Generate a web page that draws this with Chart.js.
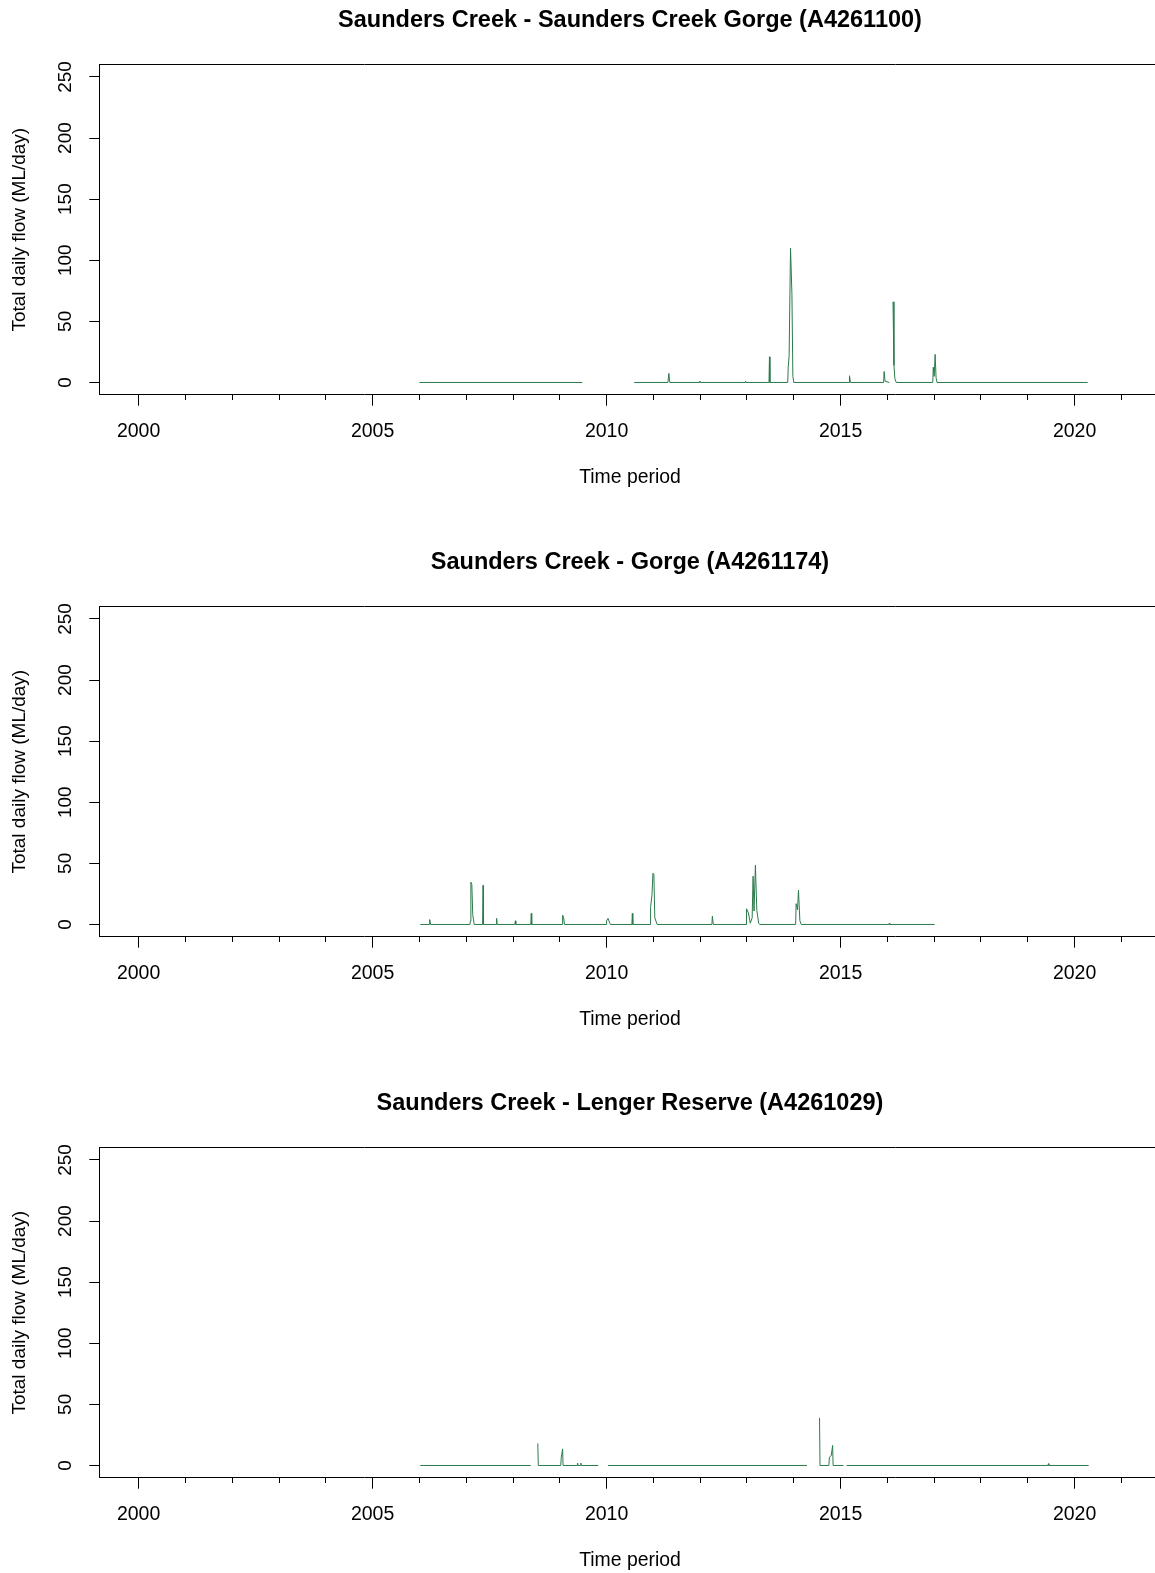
<!DOCTYPE html>
<html>
<head>
<meta charset="utf-8">
<script src="https://cdn.jsdelivr.net/npm/chart.js@4.4.1/dist/chart.umd.min.js"></script>
<style>
  html, body { margin: 0; padding: 0; background: #fff; width: 1155px; height: 1573px; overflow: hidden; }
  .panel { position: absolute; left: 0; width: 1163px; height: 542px; }
</style>
</head>
<body>
<div class="panel" style="top:0px"><canvas id="c1" width="1163" height="542"></canvas></div>
<div class="panel" style="top:542px"><canvas id="c2" width="1163" height="542"></canvas></div>
<div class="panel" style="top:1083px"><canvas id="c3" width="1163" height="542"></canvas></div>
<script>
// tick positions
const xTickYears = [2000, 2001, 2002, 2003, 2004, 2005, 2006, 2007, 2008, 2009, 2010,
                    2011, 2012, 2013, 2014, 2015, 2016, 2017, 2018, 2019, 2020, 2021];
const xLabelYears = [2000, 2005, 2010, 2015, 2020];
const yTickValues = [0, 25, 50, 75, 100, 125, 150, 175, 200, 225, 250];
const yLabelValues = [0, 50, 100, 150, 200, 250];

// Saunders Creek Gorge (A4261100) - decimal year / ML per day (null = no record)
const gorgeA1100Dates = [2006.00, 2009.48, 2009.55, 2010.59, 2011.31, 2011.33, 2011.35, 2011.98, 2011.99, 2012.00,
  2012.96, 2012.97, 2012.98, 2013.47, 2013.48, 2013.49, 2013.87, 2013.88, 2013.90, 2013.93, 2013.96, 2013.98, 2014.00,
  2015.18, 2015.19, 2015.21, 2015.92, 2015.93, 2015.95, 2016.04, 2016.08, 2016.12, 2016.14, 2016.16, 2016.19,
  2016.97, 2016.98, 2017.00, 2017.02, 2017.04, 2017.06, 2020.28];
const gorgeA1100Flow = [0, 0, null, 0, 0, 7.4, 0, 0, 1.2, 0,
  0, 1, 0, 0, 21, 0, 0, 12, 21.5, 110, 72, 5, 0,
  0, 5.5, 0, 0, 9, 1, 0, null, 66, 14, 3, 0,
  0, 12.5, 5, 23, 4, 0, 0];

// Gorge (A4261174)
const gorgeA1174Dates = [2006.02, 2006.21, 2006.22, 2006.24, 2007.08, 2007.09, 2007.10, 2007.12, 2007.14, 2007.17,
  2007.35, 2007.36, 2007.37, 2007.64, 2007.65, 2007.66, 2008.04, 2008.05, 2008.06, 2008.38, 2008.39, 2008.40,
  2009.05, 2009.06, 2009.08, 2009.10, 2009.99, 2010.00, 2010.03, 2010.06, 2010.08, 2010.54, 2010.55, 2010.56,
  2010.93, 2010.94, 2010.97, 2010.99, 2011.01, 2011.03, 2011.08, 2012.25, 2012.26, 2012.28,
  2012.98, 2012.99, 2013.03, 2013.07, 2013.11, 2013.13, 2013.15, 2013.18, 2013.21, 2013.25, 2013.27,
  2014.04, 2014.05, 2014.08, 2014.10, 2014.13, 2014.16, 2016.03, 2016.04, 2016.05, 2017.01];
const gorgeA1174Flow = [0, 0, 4, 0, 0, 2.7, 34.6, 32.7, 8, 0,
  0, 32, 0, 0, 5, 0, 0, 3, 0, 0, 9, 0,
  0, 7.6, 6, 0, 0, 3, 5, 2, 0, 0, 9, 0,
  0, 14, 24.5, 42, 41, 5.4, 0, 0, 6.8, 0,
  0, 12.8, 9.5, 1, 5.4, 39.5, 11, 48.5, 11.5, 1, 0,
  0, 17, 12, 28, 3, 0, 0, 1, 0, 0];

// Lenger Reserve (A4261029)
const lengerDates = [2006.02, 2008.38, 2008.45, 2008.53, 2008.54, 2009.02, 2009.03, 2009.06, 2009.07,
  2009.37, 2009.38, 2009.39, 2009.44, 2009.45, 2009.46, 2009.82, 2009.90, 2010.03, 2014.28, 2014.40,
  2014.55, 2014.56, 2014.75, 2014.76, 2014.80, 2014.83, 2014.84, 2015.06, 2015.10, 2015.13,
  2019.43, 2019.44, 2019.45, 2020.30];
const lengerFlow = [0, 0, null, 18, 0, 0, 6.3, 13.6, 0,
  0, 2, 0, 0, 2, 0, 0, null, 0, 0, null,
  39, 0, 0, 6.8, 8, 16.4, 0, 0, null, 0,
  0, 1.5, 0, 0];

const FONT = "'Liberation Sans', Arial, Helvetica, sans-serif";

function makeChart(id, title, dates, flows) {
  const points = dates.map((d, i) => ({x: d, y: flows[i]}));
  return new Chart(document.getElementById(id).getContext('2d'), {
    type: 'line',
    data: {
      datasets: [{
        data: points,
        borderColor: '#2b7a4b',
        borderWidth: 1,
        pointRadius: 0,
        fill: false,
        tension: 0,
        spanGaps: false
      }]
    },
    options: {
      responsive: false,
      animation: false,
      devicePixelRatio: 1,
      layout: {padding: {left: 0, right: 2.3, top: 0, bottom: 0}},
      plugins: {
        legend: {display: false},
        tooltip: {enabled: false},
        title: {
          display: true, text: title, fullSize: false, color: '#000',
          font: {family: FONT, size: 23.5, weight: 'bold'},
          padding: {top: 6, bottom: 30.5}
        }
      },
      scales: {
        x: {
          type: 'linear', position: 'bottom', min: 1999.16, max: 2021.84,
          afterBuildTicks: s => { s.ticks = xTickYears.map(v => ({value: v})); },
          afterFit: s => { s.height = 147.3; },
          ticks: {
            autoSkip: false, maxRotation: 0, minRotation: 0, padding: 14, color: '#000',
            font: {family: FONT, size: 19.5},
            callback: v => xLabelYears.includes(v) ? String(v) : ''
          },
          grid: {
            drawOnChartArea: false, drawTicks: true, tickLength: 11, tickColor: '#000', tickWidth: 1,
            tickBorderDash: c => xLabelYears.includes(c.tick.value) ? [] : [5, 40]
          },
          border: {display: true, color: '#000', width: 1},
          title: {display: true, text: 'Time period', color: '#000',
                  font: {family: FONT, size: 19.4}, padding: {top: 0, bottom: 52.6}}
        },
        xTop: {
          type: 'linear', position: 'top', min: 1999.16, max: 2021.84,
          afterFit: s => { s.height = 0; },
          ticks: {display: false},
          grid: {drawOnChartArea: false, drawTicks: false},
          border: {display: true, color: '#000', width: 1}
        },
        y: {
          type: 'linear', min: -10, max: 260,
          afterBuildTicks: s => { s.ticks = yTickValues.map(v => ({value: v})); },
          afterFit: s => { s.width = 99.3; },
          ticks: {
            minRotation: 90, maxRotation: 90, crossAlign: 'center', padding: 8, color: '#000',
            font: {family: FONT, size: 19},
            callback: v => yLabelValues.includes(v) ? String(v) : ''
          },
          grid: {drawOnChartArea: false, tickLength: 10, tickColor: '#000', tickWidth: 1},
          border: {display: true, color: '#000', width: 1},
          title: {display: true, text: 'Total daily flow (ML/day)', color: '#000',
                  font: {family: FONT, size: 19}, padding: {top: 8.6, bottom: 0}}
        }
      }
    }
  });
}

makeChart('c1', 'Saunders Creek - Saunders Creek Gorge (A4261100)', gorgeA1100Dates, gorgeA1100Flow);
makeChart('c2', 'Saunders Creek - Gorge (A4261174)', gorgeA1174Dates, gorgeA1174Flow);
makeChart('c3', 'Saunders Creek - Lenger Reserve (A4261029)', lengerDates, lengerFlow);
</script>
</body>
</html>
